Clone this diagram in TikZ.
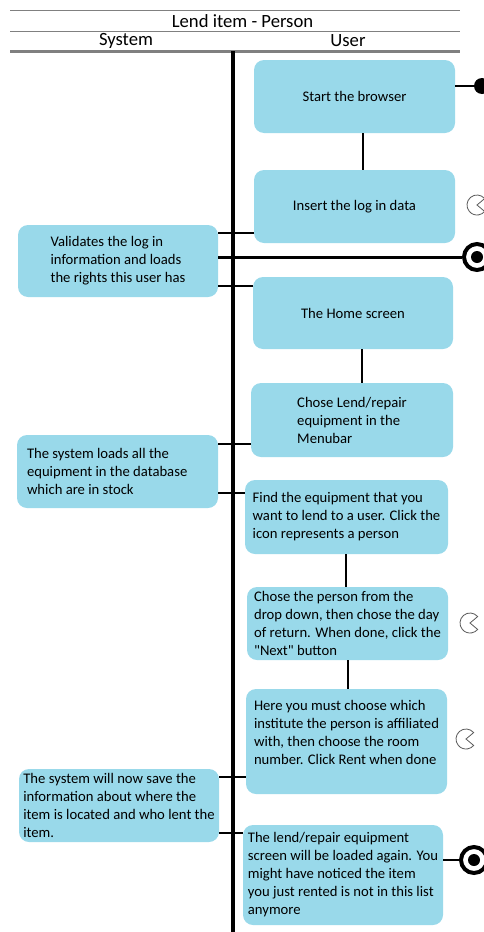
\documentclass[tikz,border=0pt]{standalone}
\usepackage{fontspec}
\setmainfont{Carlito}[Ligatures=TeXOff]
\usetikzlibrary{calc}
\definecolor{boxblue}{RGB}{153,217,234}
\definecolor{rulegray}{RGB}{128,128,128}
\definecolor{timergray}{RGB}{90,90,90}
\begin{document}
\begin{tikzpicture}[x=0.75pt,y=-0.75pt,
  stepbox/.style={fill=boxblue, rounded corners=7.5pt, align=left,
    inner xsep=2pt, inner ysep=0pt, font=\fontsize{11}{13.5}\selectfont},
  steptext/.style={align=left, inner sep=0pt, font=\fontsize{11}{13.5}\selectfont},
  sz/.style 2 args={minimum width={#1*0.75pt}, minimum height={#2*0.75pt}},
  link/.style={line width=1.5pt},
  lane/.style={line width=3pt},
  sync/.style={line width=2.25pt},
  head/.style={font=\fontsize{14}{16}\selectfont, inner sep=0pt},
  startdot/.style={circle, fill=black, inner sep=0pt, minimum size={16*0.75pt}},
  enddot/.style={circle, draw=black, fill=white, line width=3pt, inner sep=0pt,
    minimum size={26*0.75pt}},
  timer/.style={draw=timergray, line width=0.6pt, fill=white},
]
\useasboundingbox (0,0) rectangle (483,932);

% header rules and lane titles
\draw[rulegray, line width=0.75pt] (10,10) -- (460,10);
\draw[rulegray, line width=0.75pt] (10,31) -- (460,31);
\draw[rulegray, line width=2.25pt] (10,51) -- (460,51);
\node[head] (title) at (242.5,21) {Lend item - Person};
\node[head] (sys) at (126,41) {System};
\node[head] (usr) at (348,41) {User};

% swimlane divider
\coordinate (laneTop) at (233,51);
\coordinate (laneBot) at (233,932);
\draw[lane] (laneTop) -- (laneBot);

% user lane steps
\node[stepbox, sz={201}{73}] (B1) at (354.5,96.5) {Start the browser};
\node[stepbox, sz={201}{73}] (B2) at (354.5,206.5) {Insert the log in data};
\node[stepbox, sz={200}{72}] (B3) at (353,313) {The Home screen};
\node[stepbox, sz={202}{74}] (B4) at (352,420) {Chose Lend/repair\\equipment in the\\Menubar};
\node[stepbox, sz={203}{74}] (B5) at (346.5,517) {Find the equipment that you\\want to lend to a user. Click the\\icon represents a person};
\node[stepbox, sz={201}{73}] (B6) at (347.5,623.5) {Chose the person from the\\drop down, then chose the day\\of return. When done, click the\\"Next" button};
\node[stepbox, sz={201}{105}] (B7) at (346.5,741.5) {Here you must choose which\\institute the person is affiliated\\with, then choose the room\\number. Click Rent when done\\\mbox{}};
\node[stepbox, sz={200}{100}] (B8) at (343,875) {The lend/repair equipment\\screen will be loaded again. You\\might have noticed the item\\you just rented is not in this list\\anymore};

% system lane steps
\node[stepbox, sz={200}{72}] (S1) at (118,261) {Validates the log in\\information and loads\\the rights this user has};
\node[stepbox, sz={201}{73}] (S2) at (117.5,471.5) {};
\node[steptext, anchor=west] (S2text) at ($(S2.west)+(10,0)$) {The system loads all the\\equipment in the database\\which are in stock};
\node[stepbox, sz={200}{73}] (S3) at (119,805.5) {The system will now save the\\information about where the\\item is located and who lent the\\item.};

% start and end markers
\node[startdot] (start) at (482,86) {};
\node[enddot] (E1) at (477,257) {};
\fill (E1) circle (4.5pt);
\node[enddot] (E2) at (474,860) {};
\fill (E2) circle (4.5pt);

% timer marks
\coordinate (T1) at (477,205);
\coordinate (T2) at (470,623);
\coordinate (T3) at (466,739);
\foreach \t in {T1,T2,T3}
  \draw[timer] (\t) -- ++(40:7.5pt) arc[start angle=40, end angle=320, radius=7.5pt] -- cycle;

% vertical flow links
\draw[link] ($(B1.south)+(8.5,0)$) -- ($(B2.north)+(8.5,0)$);
\draw[link] ($(B3.south)+(9,0)$) -- ($(B4.north)+(10,0)$);
\draw[link] ($(B5.south)+(-0.5,0)$) -- ($(B6.north)+(-1.5,0)$);
\draw[link] ($(B6.south)+(0.5,0)$) -- ($(B7.north)+(1.5,0)$);

% cross-lane links
\coordinate (h1) at (0,233);
\coordinate (h2) at (0,286);
\coordinate (h3) at (0,444);
\coordinate (h4) at (0,493);
\coordinate (h5) at (0,777);
\coordinate (h6) at (0,833);
\draw[link] (S1.east |- h1) -- (B2.west |- h1);
\draw[link] (S1.east |- h2) -- (B3.west |- h2);
\draw[link] (S2.east |- h3) -- (B4.west |- h3);
\draw[link] (S2.east |- h4) -- (B5.west |- h4);
\draw[link] (S3.east |- h5) -- (B7.west |- h5);
\draw[link] (S3.east |- h6) -- (B8.west |- h6);

% links to start and end markers
\draw[sync] (S1.east |- E1) -- (E1.west);
\draw[link] (B1.east |- start) -- (start);
\draw[link] (B8.east |- E2) -- (E2.west);
\end{tikzpicture}
\end{document}
